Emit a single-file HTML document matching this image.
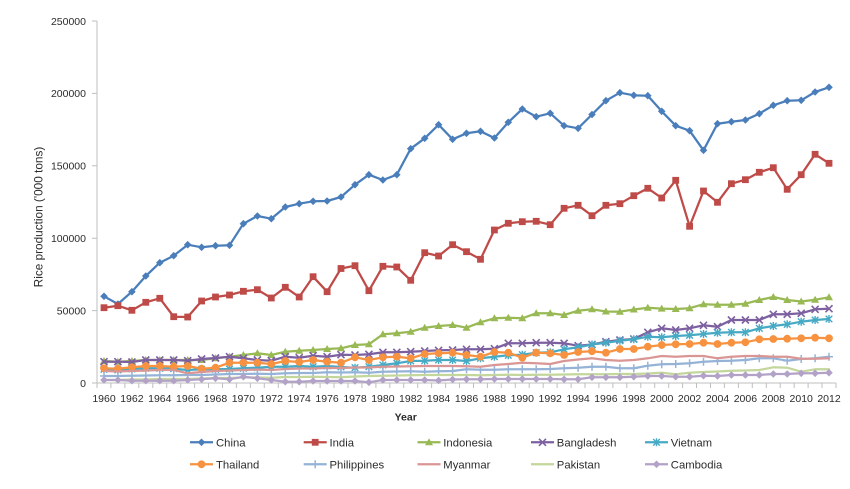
<!DOCTYPE html>
<html><head><meta charset="utf-8"><style>
html,body{margin:0;padding:0;background:#fff;}
svg{display:block;font-family:"Liberation Sans",Arial,sans-serif;}
</style></head><body>
<svg width="850" height="489" viewBox="0 0 850 489" xmlns="http://www.w3.org/2000/svg">
<defs>
<marker id="mCh" markerUnits="userSpaceOnUse" markerWidth="12" markerHeight="12" refX="6" refY="6" overflow="visible"><polygon points="6,2.2 9.8,6 6,9.8 2.2,6" fill="#4A7EBB"/></marker>
<marker id="mIn" markerUnits="userSpaceOnUse" markerWidth="12" markerHeight="12" refX="6" refY="6" overflow="visible"><rect x="2.6" y="2.6" width="6.8" height="6.8" fill="#BE4B48"/></marker>
<marker id="mId" markerUnits="userSpaceOnUse" markerWidth="12" markerHeight="12" refX="6" refY="6" overflow="visible"><polygon points="6,2 10,9 2,9" fill="#98B954"/></marker>
<marker id="mBd" markerUnits="userSpaceOnUse" markerWidth="12" markerHeight="12" refX="6" refY="6" overflow="visible"><path d="M2.5,2.5L9.5,9.5M9.5,2.5L2.5,9.5" stroke="#7D60A0" stroke-width="1.6" fill="none"/></marker>
<marker id="mVn" markerUnits="userSpaceOnUse" markerWidth="12" markerHeight="12" refX="6" refY="6" overflow="visible"><path d="M2.7,2.7L9.3,9.3M9.3,2.7L2.7,9.3M6,2V10" stroke="#46AAC5" stroke-width="1.4" fill="none"/></marker>
<marker id="mTh" markerUnits="userSpaceOnUse" markerWidth="12" markerHeight="12" refX="6" refY="6" overflow="visible"><circle cx="6" cy="6" r="3.9" fill="#F69240"/></marker>
<marker id="mPh" markerUnits="userSpaceOnUse" markerWidth="12" markerHeight="12" refX="6" refY="6" overflow="visible"><path d="M6,2V10M2,6H10" stroke="#95B3D7" stroke-width="1.5" fill="none"/></marker>
<marker id="mCa" markerUnits="userSpaceOnUse" markerWidth="12" markerHeight="12" refX="6" refY="6" overflow="visible"><polygon points="6,2.2 9.8,6 6,9.8 2.2,6" fill="#B3A2C7"/></marker>
</defs>

<!-- axes -->
<g stroke="#BFBFBF" stroke-width="1" fill="none">
<path d="M97,21V383.5M97,383H836"/>
<path d="M92,21H97M92,93.4H97M92,165.8H97M92,238.2H97M92,310.6H97M92,383H97"/>
<path d="M97,383v5M110.9,383v5M124.9,383v5M138.8,383v5M152.8,383v5M166.7,383v5M180.7,383v5M194.6,383v5M208.5,383v5M222.5,383v5M236.4,383v5M250.4,383v5M264.3,383v5M278.3,383v5M292.2,383v5M306.1,383v5M320.1,383v5M334,383v5M348,383v5M361.9,383v5M375.9,383v5M389.8,383v5M403.7,383v5M417.7,383v5M431.6,383v5M445.6,383v5M459.5,383v5M473.5,383v5M487.4,383v5M501.3,383v5M515.3,383v5M529.2,383v5M543.2,383v5M557.1,383v5M571.1,383v5M585,383v5M598.9,383v5M612.9,383v5M626.8,383v5M640.8,383v5M654.7,383v5M668.7,383v5M682.6,383v5M696.5,383v5M710.5,383v5M724.4,383v5M738.4,383v5M752.3,383v5M766.3,383v5M780.2,383v5M794.2,383v5M808.1,383v5M822,383v5M836,383v5"/>
</g>

<!-- y tick labels -->
<g font-size="10.5" fill="#2b2b2b" text-anchor="end">
<text x="86" y="24.8">250000</text>
<text x="86" y="97.2">200000</text>
<text x="86" y="169.6">150000</text>
<text x="86" y="242">100000</text>
<text x="86" y="314.4">50000</text>
<text x="86" y="386.8">0</text>
</g>

<!-- x tick labels -->
<g font-size="10.5" fill="#2b2b2b" text-anchor="middle">
<text x="104" y="402">1960</text><text x="131.9" y="402">1962</text><text x="159.8" y="402">1964</text><text x="187.7" y="402">1966</text><text x="215.5" y="402">1968</text><text x="243.4" y="402">1970</text><text x="271.3" y="402">1972</text><text x="299.2" y="402">1974</text><text x="327.1" y="402">1976</text><text x="355" y="402">1978</text><text x="382.9" y="402">1980</text><text x="410.7" y="402">1982</text><text x="438.6" y="402">1984</text><text x="466.5" y="402">1986</text><text x="494.4" y="402">1988</text><text x="522.3" y="402">1990</text><text x="550.2" y="402">1992</text><text x="578.1" y="402">1994</text><text x="605.9" y="402">1996</text><text x="633.8" y="402">1998</text><text x="661.7" y="402">2000</text><text x="689.6" y="402">2002</text><text x="717.5" y="402">2004</text><text x="745.4" y="402">2006</text><text x="773.3" y="402">2008</text><text x="801.2" y="402">2010</text><text x="829" y="402">2012</text>
</g>

<text x="405.7" y="420.5" font-size="10.5" font-weight="bold" fill="#2b2b2b" text-anchor="middle">Year</text>
<text transform="translate(42.5,217) rotate(-90)" font-size="11.8" fill="#2b2b2b" text-anchor="middle">Rice production ('000 tons)</text>

<!-- series -->
<g fill="none" stroke-width="2.25" stroke-linejoin="round" stroke-linecap="round">
<polyline stroke="#4A7EBB" marker-start="url(#mCh)" marker-mid="url(#mCh)" marker-end="url(#mCh)" points="104,296.3 117.9,304 131.9,291.7 145.8,276 159.8,262.7 173.7,255.7 187.7,244.7 201.6,247.3 215.5,245.7 229.5,245.3 243.4,223.7 257.4,216 271.3,218.7 285.3,207 299.2,203.7 313.1,201.3 327.1,201 341,197 355,184.7 368.9,174.7 382.9,180 396.8,174.7 410.7,148.7 424.7,138.3 438.6,124.7 452.6,139.3 466.5,133.3 480.5,131.3 494.4,138 508.3,122.3 522.3,109 536.2,116.7 550.2,113.3 564.1,125.7 578.1,128.3 592,114.5 605.9,100.7 619.9,92.7 633.8,95.3 647.8,95.7 661.7,111.3 675.7,125.7 689.6,130.7 703.5,150.3 717.5,123.7 731.4,121.7 745.4,120 759.3,113.7 773.3,105.3 787.2,100.7 801.2,100.3 815.1,92 829,87.3"/>
<polyline stroke="#BE4B48" marker-start="url(#mIn)" marker-mid="url(#mIn)" marker-end="url(#mIn)" points="104,307.7 117.9,305.7 131.9,310.3 145.8,302.3 159.8,298.3 173.7,316.7 187.7,317 201.6,301 215.5,297 229.5,295 243.4,291.3 257.4,289.7 271.3,298 285.3,287.3 299.2,297 313.1,276.7 327.1,291.7 341,268.5 355,265.7 368.9,290.7 382.9,266.3 396.8,267 410.7,280.3 424.7,252.7 438.6,256 452.6,244.7 466.5,251.7 480.5,259.3 494.4,230 508.3,223.3 522.3,221.7 536.2,221.3 550.2,224.7 564.1,208.3 578.1,205.3 592,215.7 605.9,205.3 619.9,203.7 633.8,195.7 647.8,188.3 661.7,198 675.7,180.3 689.6,226.3 703.5,191 717.5,202.3 731.4,183.7 745.4,179.7 759.3,172.3 773.3,167.7 787.2,189.3 801.2,174.7 815.1,154.3 829,163.3"/>
<polyline stroke="#98B954" marker-start="url(#mId)" marker-mid="url(#mId)" marker-end="url(#mId)" points="104,361 117.9,361.7 131.9,361 145.8,360 159.8,360 173.7,360 187.7,360 201.6,360 215.5,358.3 229.5,356.7 243.4,355 257.4,353.3 271.3,355 285.3,351.7 299.2,350.7 313.1,350 327.1,349 341,348.3 355,345 368.9,344.3 382.9,334.3 396.8,333.3 410.7,331.7 424.7,327.7 438.6,326 452.6,325 466.5,327.7 480.5,322.3 494.4,318.3 508.3,317.7 522.3,318.3 536.2,313.3 550.2,313.3 564.1,315 578.1,310.7 592,309.3 605.9,311.5 619.9,311.7 633.8,309.5 647.8,307.8 661.7,308.6 675.7,309 689.6,308.2 703.5,304.2 717.5,304.7 731.4,304.7 745.4,303.7 759.3,300 773.3,297 787.2,300 801.2,301.5 815.1,299.7 829,297.3"/>
<polyline stroke="#7D60A0" marker-start="url(#mBd)" marker-mid="url(#mBd)" marker-end="url(#mBd)" points="104,361.7 117.9,361.7 131.9,362 145.8,360 159.8,360 173.7,360 187.7,360.7 201.6,359 215.5,358 229.5,356.7 243.4,358.3 257.4,360 271.3,360.7 285.3,356.7 299.2,357.7 313.1,355.7 327.1,356.7 341,354.7 355,355 368.9,354.3 382.9,352.3 396.8,352.3 410.7,351.7 424.7,351 438.6,350.3 452.6,350 466.5,349.3 480.5,349.3 494.4,348.7 508.3,343.3 522.3,343.3 536.2,342.7 550.2,342.7 564.1,343.3 578.1,345.7 592,344.5 605.9,341.7 619.9,340 633.8,339 647.8,332.3 661.7,328.3 675.7,330 689.6,328.3 703.5,325.3 717.5,326.7 731.4,320 745.4,320 759.3,320 773.3,314.3 787.2,314.3 801.2,313.3 815.1,309.3 829,308.7"/>
<polyline stroke="#46AAC5" marker-start="url(#mVn)" marker-mid="url(#mVn)" marker-end="url(#mVn)" points="104,369.3 117.9,370 131.9,369 145.8,368.3 159.8,368.3 173.7,368.7 187.7,370 201.6,369.3 215.5,369.3 229.5,369 243.4,368.3 257.4,367.7 271.3,366.7 285.3,366.7 299.2,366 313.1,366.7 327.1,366 341,367 355,367.7 368.9,366.7 382.9,365 396.8,363.3 410.7,361 424.7,360.7 438.6,360 452.6,360 466.5,361 480.5,358.3 494.4,356.7 508.3,355.3 522.3,354.7 536.2,352.7 550.2,352.3 564.1,349.3 578.1,347.3 592,344.5 605.9,342.7 619.9,340.7 633.8,339.3 647.8,336.7 661.7,337.3 675.7,336 689.6,335.3 703.5,334 717.5,332.7 731.4,332.3 745.4,332.3 759.3,328.3 773.3,326 787.2,324.3 801.2,321.7 815.1,320 829,319"/>
<polyline stroke="#F69240" marker-start="url(#mTh)" marker-mid="url(#mTh)" marker-end="url(#mTh)" points="104,368.3 117.9,368.7 131.9,367.3 145.8,366 159.8,366 173.7,366.7 187.7,366 201.6,368.7 215.5,367.7 229.5,362.7 243.4,362.7 257.4,362.7 271.3,364 285.3,361 299.2,362 313.1,360 327.1,361.7 341,362.7 355,357.3 368.9,360 382.9,357.3 396.8,356.7 410.7,358.3 424.7,354 438.6,353.3 452.6,352.7 466.5,355 480.5,356.7 494.4,352 508.3,352.7 522.3,357.7 536.2,352.7 550.2,353.3 564.1,355 578.1,352 592,351.2 605.9,352.7 619.9,349 633.8,349 647.8,346.7 661.7,345 675.7,344.3 689.6,344 703.5,342.7 717.5,344 731.4,342.7 745.4,342.3 759.3,339.3 773.3,339 787.2,338.7 801.2,338.3 815.1,337.7 829,338.3"/>
<polyline stroke="#95B3D7" marker-start="url(#mPh)" marker-mid="url(#mPh)" marker-end="url(#mPh)" points="104,376 117.9,376 131.9,375.7 145.8,375.5 159.8,375.3 173.7,375.3 187.7,375 201.6,375 215.5,374.5 229.5,374 243.4,374 257.4,373.7 271.3,374 285.3,373.3 299.2,373 313.1,373 327.1,372.3 341,372.5 355,372.3 368.9,372.7 382.9,371.7 396.8,371.5 410.7,371.3 424.7,371.7 438.6,371.3 452.6,371 466.5,369.3 480.5,369.7 494.4,369.7 508.3,369.3 522.3,369.3 536.2,369.3 550.2,369 564.1,368.3 578.1,367.7 592,366.7 605.9,366.7 619.9,368.3 633.8,368.3 647.8,365.7 661.7,364.3 675.7,364 689.6,363.3 703.5,361.7 717.5,361 731.4,360.7 745.4,360 759.3,358.3 773.3,358.3 787.2,360.7 801.2,359 815.1,358.3 829,356.7"/>
<polyline stroke="#DA9694" points="104,371 117.9,371.5 131.9,371 145.8,370.5 159.8,370 173.7,370 187.7,373.3 201.6,372 215.5,371 229.5,370.5 243.4,370 257.4,369.5 271.3,370 285.3,369 299.2,368.5 313.1,368.5 327.1,368 341,368 355,367.5 368.9,367.5 382.9,366.7 396.8,366.5 410.7,366.3 424.7,366 438.6,366 452.6,366 466.5,366.3 480.5,366.7 494.4,365 508.3,364 522.3,362.7 536.2,363.3 550.2,364 564.1,361 578.1,359.5 592,358.3 605.9,360 619.9,360.7 633.8,360 647.8,358.3 661.7,356 675.7,356.7 689.6,356 703.5,356 717.5,358.3 731.4,356.7 745.4,356 759.3,356 773.3,356.7 787.2,356.7 801.2,358.7 815.1,358.7 829,358.3"/>
<polyline stroke="#C3D69B" points="104,380 117.9,380 131.9,379.5 145.8,379.5 159.8,379 173.7,379 187.7,379 201.6,378.5 215.5,378 229.5,378 243.4,377.5 257.4,377.5 271.3,377.7 285.3,377 299.2,377 313.1,376.7 327.1,377 341,377.3 355,376.5 368.9,376 382.9,375.7 396.8,375.5 410.7,375.3 424.7,375 438.6,375 452.6,375 466.5,375 480.5,375.3 494.4,375 508.3,374.7 522.3,375 536.2,374.7 550.2,374.7 564.1,374.5 578.1,374.3 592,374.3 605.9,374.3 619.9,374 633.8,374 647.8,373.5 661.7,372.7 675.7,374.3 689.6,372.7 703.5,372 717.5,371.5 731.4,370.7 745.4,370.5 759.3,370 773.3,367.3 787.2,367.7 801.2,371.7 815.1,369.3 829,369.3"/>
<polyline stroke="#B3A2C7" marker-start="url(#mCa)" marker-mid="url(#mCa)" marker-end="url(#mCa)" points="104,380 117.9,380 131.9,380.7 145.8,380.7 159.8,380.7 173.7,380.7 187.7,380 201.6,379.3 215.5,378.3 229.5,379.3 243.4,376.7 257.4,378.3 271.3,380 285.3,381.7 299.2,381.7 313.1,381 327.1,381 341,381 355,381 368.9,382.3 382.9,380 396.8,380 410.7,380 424.7,380 438.6,380.5 452.6,379.5 466.5,379.3 480.5,379.3 494.4,379 508.3,379 522.3,379 536.2,379 550.2,379 564.1,379.3 578.1,379.3 592,377.3 605.9,377.3 619.9,377.3 633.8,376.7 647.8,376 661.7,376 675.7,376.7 689.6,376.7 703.5,375.7 717.5,376 731.4,375 745.4,375 759.3,375 773.3,374 787.2,374 801.2,373.3 815.1,373.3 829,372.7"/>
</g>

<!-- legend -->
<g fill="none" stroke-width="2.25">
<path d="M190,442.3H213" stroke="#4A7EBB"/>
<path d="M303.7,442.3H326.7" stroke="#BE4B48"/>
<path d="M417.5,442.3H440.5" stroke="#98B954"/>
<path d="M531,442.3H554" stroke="#7D60A0"/>
<path d="M645,442.3H668" stroke="#46AAC5"/>
<path d="M190,464.3H213" stroke="#F69240"/>
<path d="M303.7,464.3H326.7" stroke="#95B3D7"/>
<path d="M417.5,464.3H440.5" stroke="#DA9694"/>
<path d="M531,464.3H554" stroke="#C3D69B"/>
<path d="M645,464.3H668" stroke="#B3A2C7"/>
</g>
<g>
<polygon points="201.5,438.5 205.3,442.3 201.5,446.1 197.7,442.3" fill="#4A7EBB"/>
<rect x="311.8" y="438.9" width="6.8" height="6.8" fill="#BE4B48"/>
<polygon points="429,438.3 433,445.3 425,445.3" fill="#98B954"/>
<path d="M539,438.8L546,445.8M546,438.8L539,445.8" stroke="#7D60A0" stroke-width="1.6"/>
<path d="M653.2,439L659.8,445.6M659.8,439L653.2,445.6M656.5,438.3V446.3" stroke="#46AAC5" stroke-width="1.4"/>
<circle cx="201.5" cy="464.3" r="3.9" fill="#F69240"/>
<path d="M315.2,460.3V468.3M311.2,464.3H319.2" stroke="#95B3D7" stroke-width="1.5"/>
<polygon points="656.5,460.5 660.3,464.3 656.5,468.1 652.7,464.3" fill="#B3A2C7"/>
</g>
<g font-size="11.3" fill="#2b2b2b">
<text x="216" y="446.3">China</text>
<text x="329.5" y="446.3">India</text>
<text x="443.3" y="446.3">Indonesia</text>
<text x="556.8" y="446.3">Bangladesh</text>
<text x="670.8" y="446.3">Vietnam</text>
<text x="216" y="468.3">Thailand</text>
<text x="329.5" y="468.3">Philippines</text>
<text x="443.3" y="468.3">Myanmar</text>
<text x="556.8" y="468.3">Pakistan</text>
<text x="670.8" y="468.3">Cambodia</text>
</g>
</svg>
</body></html>
